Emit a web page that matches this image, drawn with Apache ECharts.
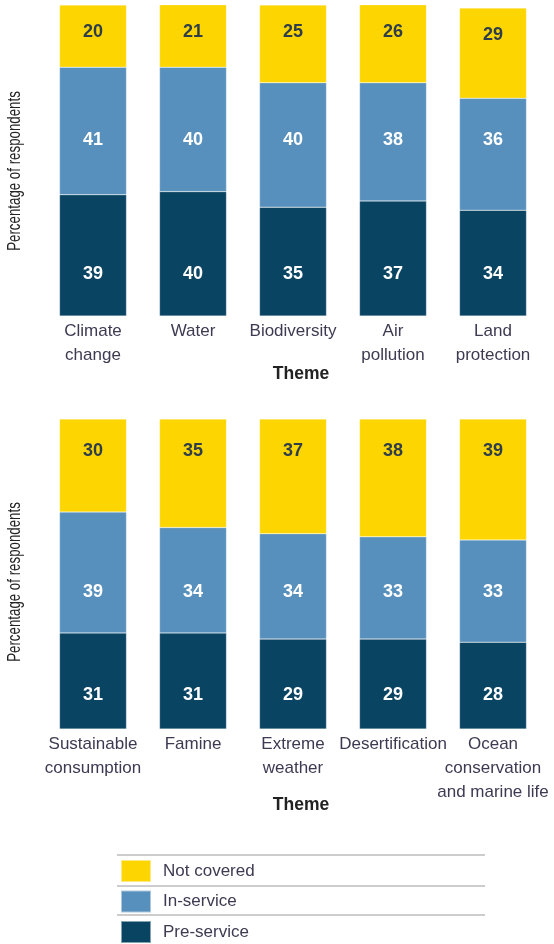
<!DOCTYPE html>
<html>
<head>
<meta charset="utf-8">
<script src="https://cdn.jsdelivr.net/npm/echarts@6/dist/echarts.min.js"></script>
<style>
html,body{margin:0;padding:0;background:#fff;}
#chart{width:554px;height:944px;}
</style>
</head>
<body>
<div id="chart"></div>
<script>
const seriesNames = ['Pre-service', 'In-service', 'Not covered'];
const legendOrder = ['Not covered', 'In-service', 'Pre-service'];
const categoriesTop = ['Climate\nchange', 'Water', 'Biodiversity', 'Air\npollution', 'Land\nprotection'];
const preTop = [39, 40, 35, 37, 34];
const inTop = [41, 40, 40, 38, 36];
const notTop = [20, 21, 25, 26, 29];
const categoriesBottom = ['Sustainable\nconsumption', 'Famine', 'Extreme\nweather', 'Desertification', 'Ocean\nconservation\nand marine life'];
const preBottom = [31, 31, 29, 29, 28];
const inBottom = [39, 34, 34, 33, 33];
const notBottom = [30, 35, 37, 38, 39];
const axisTitleX = 'Theme';
const axisTitleY = 'Percentage of respondents';

const COLORS = {not: '#FDD500', inn: '#5790BC', pre: '#0A4463'};
const FONT = '"Liberation Sans", Arial, sans-serif';
const TEXT = '#3d3a52';

const chart = echarts.init(document.getElementById('chart'), null, {renderer: 'canvas'});

function xAxis(gi, cats, gap) {
  return {
    type: 'category', gridIndex: gi, data: cats,
    axisLine: {show: false}, axisTick: {show: false},
    axisLabel: {interval: 0, margin: 3, fontFamily: FONT, fontSize: 17, lineHeight: 24, color: TEXT},
    name: axisTitleX, nameLocation: 'middle', nameGap: gap, nameMoveOverlap: false,
    nameTextStyle: {fontFamily: FONT, fontSize: 17.5, fontWeight: 'bold', color: '#222', padding: [0, 0, 0, 16]}
  };
}
function yAxis(gi) {
  return {
    type: 'value', gridIndex: gi, min: 0, max: 100,
    axisLine: {show: false}, axisTick: {show: false}, axisLabel: {show: false}, splitLine: {show: false}
  };
}
function bar(name, gi, data, color, label) {
  return {
    name, type: 'bar', xAxisIndex: gi, yAxisIndex: gi, stack: 's' + gi,
    barWidth: 67, data: data.slice(),
    itemStyle: {color, borderColor: 'rgba(255,255,255,0.5)', borderWidth: 0.5},
    label: Object.assign({show: true, fontFamily: FONT, fontSize: 18, fontWeight: 'bold'}, label)
  };
}
function yTitle(y) {
  return {
    type: 'text', x: 15, y, rotation: Math.PI / 2, scaleX: 0.7,
    style: {text: axisTitleY, font: '19px ' + FONT, fill: '#222', align: 'center', verticalAlign: 'middle'}
  };
}

const option = {
  animation: false,
  grid: [
    {left: 43, width: 500, top: 5, height: 311},
    {left: 43, width: 500, top: 419, height: 310}
  ],
  xAxis: [xAxis(0, categoriesTop, 49), xAxis(1, categoriesBottom, 67)],
  yAxis: [yAxis(0), yAxis(1)],
  legend: {
    data: legendOrder, orient: 'vertical', left: 120, top: 859, height: 90, padding: 0,
    itemWidth: 30, itemHeight: 22, itemGap: 6.5, icon: 'rect',
    selectedMode: false,
    textStyle: {fontFamily: FONT, fontSize: 17, lineHeight: 20, color: TEXT, padding: [0, 0, 0, 7]}
  },
  graphic: [855, 886, 915].map(y => ({
    type: 'line', shape: {x1: 117, y1: y, x2: 485, y2: y},
    style: {stroke: '#9a9a9a', lineWidth: 1}
  })).concat([yTitle(171), yTitle(582)]),
  series: [
    bar(seriesNames[0], 0, preTop, COLORS.pre, {position: 'insideBottom', distance: 33, color: '#fff'}),
    bar(seriesNames[1], 0, inTop, COLORS.inn, {position: 'inside', color: '#fff'}),
    bar(seriesNames[2], 0, notTop, COLORS.not, {position: 'insideTop', distance: 18, color: '#2e3d4a'}),
    bar(seriesNames[0], 1, preBottom, COLORS.pre, {position: 'insideBottom', distance: 25, color: '#fff'}),
    bar(seriesNames[1], 1, inBottom, COLORS.inn, {position: 'inside', color: '#fff'}),
    bar(seriesNames[2], 1, notBottom, COLORS.not, {position: 'insideTop', distance: 23, color: '#2e3d4a'})
  ]
};
chart.setOption(option);

// align the middle-segment labels on a common line (mean of segment centres)
function alignMiddle(gi, pre, mid, shift) {
  const ys = pre.map((p, i) => chart.convertToPixel({gridIndex: gi}, [i, p + mid[i] / 2])[1]);
  const avg = ys.reduce((a, b) => a + b, 0) / ys.length + shift;
  return mid.map((v, i) => ({value: v, label: {offset: [0, avg - ys[i]]}}));
}
chart.setOption({
  series: [
    {}, {data: alignMiddle(0, preTop, inTop, 0)}, {},
    {}, {data: alignMiddle(1, preBottom, inBottom, 8)}, {}
  ]
});
</script>
</body>
</html>
